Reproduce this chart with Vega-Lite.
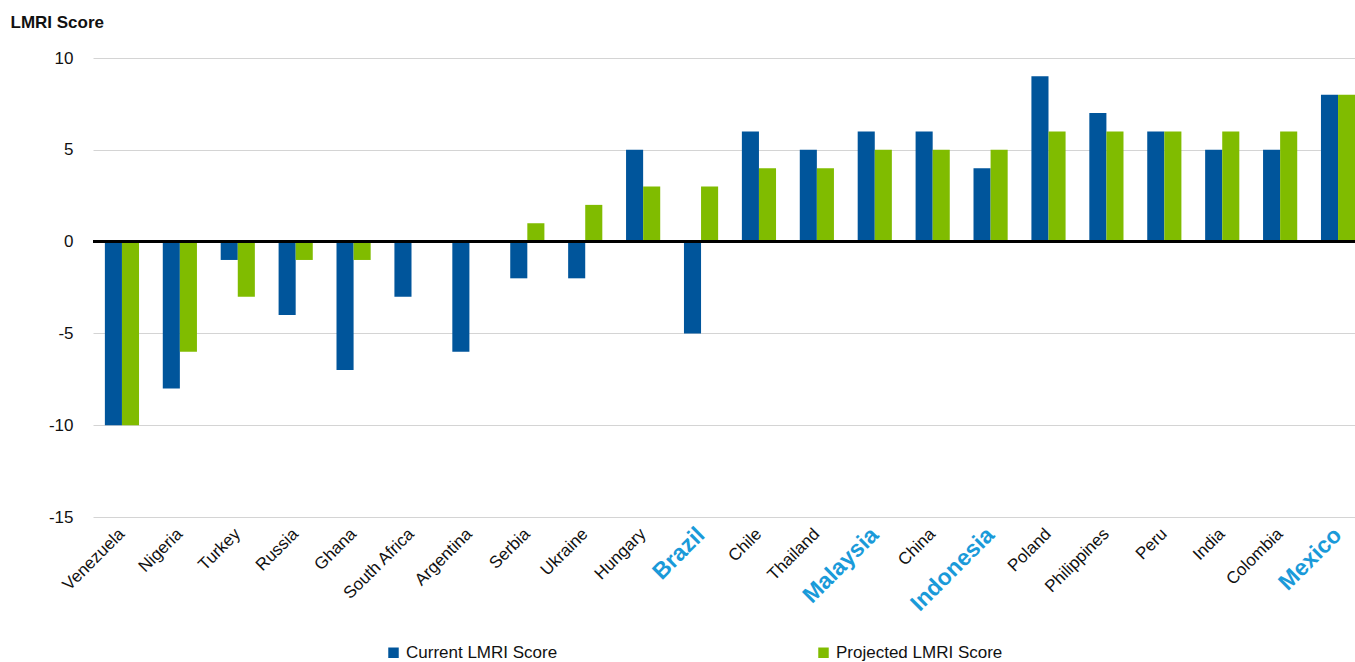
{
  "$schema": "https://vega.github.io/schema/vega-lite/v6.json",
  "autosize": {"type": "none"},
  "width": 1262,
  "height": 459,
  "padding": {"left": 93, "top": 58, "right": 0, "bottom": 145},
  "background": "white",
  "config": {"view": {"stroke": null}, "font": "Liberation Sans"},
  "data": {"values": [
    {"country": "Venezuela", "series": "Current LMRI Score", "value": -10},
    {"country": "Venezuela", "series": "Projected LMRI Score", "value": -10},
    {"country": "Nigeria", "series": "Current LMRI Score", "value": -8},
    {"country": "Nigeria", "series": "Projected LMRI Score", "value": -6},
    {"country": "Turkey", "series": "Current LMRI Score", "value": -1},
    {"country": "Turkey", "series": "Projected LMRI Score", "value": -3},
    {"country": "Russia", "series": "Current LMRI Score", "value": -4},
    {"country": "Russia", "series": "Projected LMRI Score", "value": -1},
    {"country": "Ghana", "series": "Current LMRI Score", "value": -7},
    {"country": "Ghana", "series": "Projected LMRI Score", "value": -1},
    {"country": "South Africa", "series": "Current LMRI Score", "value": -3},
    {"country": "South Africa", "series": "Projected LMRI Score", "value": 0},
    {"country": "Argentina", "series": "Current LMRI Score", "value": -6},
    {"country": "Argentina", "series": "Projected LMRI Score", "value": 0},
    {"country": "Serbia", "series": "Current LMRI Score", "value": -2},
    {"country": "Serbia", "series": "Projected LMRI Score", "value": 1},
    {"country": "Ukraine", "series": "Current LMRI Score", "value": -2},
    {"country": "Ukraine", "series": "Projected LMRI Score", "value": 2},
    {"country": "Hungary", "series": "Current LMRI Score", "value": 5},
    {"country": "Hungary", "series": "Projected LMRI Score", "value": 3},
    {"country": "Brazil", "series": "Current LMRI Score", "value": -5},
    {"country": "Brazil", "series": "Projected LMRI Score", "value": 3},
    {"country": "Chile", "series": "Current LMRI Score", "value": 6},
    {"country": "Chile", "series": "Projected LMRI Score", "value": 4},
    {"country": "Thailand", "series": "Current LMRI Score", "value": 5},
    {"country": "Thailand", "series": "Projected LMRI Score", "value": 4},
    {"country": "Malaysia", "series": "Current LMRI Score", "value": 6},
    {"country": "Malaysia", "series": "Projected LMRI Score", "value": 5},
    {"country": "China", "series": "Current LMRI Score", "value": 6},
    {"country": "China", "series": "Projected LMRI Score", "value": 5},
    {"country": "Indonesia", "series": "Current LMRI Score", "value": 4},
    {"country": "Indonesia", "series": "Projected LMRI Score", "value": 5},
    {"country": "Poland", "series": "Current LMRI Score", "value": 9},
    {"country": "Poland", "series": "Projected LMRI Score", "value": 6},
    {"country": "Philippines", "series": "Current LMRI Score", "value": 7},
    {"country": "Philippines", "series": "Projected LMRI Score", "value": 6},
    {"country": "Peru", "series": "Current LMRI Score", "value": 6},
    {"country": "Peru", "series": "Projected LMRI Score", "value": 6},
    {"country": "India", "series": "Current LMRI Score", "value": 5},
    {"country": "India", "series": "Projected LMRI Score", "value": 6},
    {"country": "Colombia", "series": "Current LMRI Score", "value": 5},
    {"country": "Colombia", "series": "Projected LMRI Score", "value": 6},
    {"country": "Mexico", "series": "Current LMRI Score", "value": 8},
    {"country": "Mexico", "series": "Projected LMRI Score", "value": 8}
  ]},
  "layer": [
    {
      "mark": {"type": "bar"},
      "encoding": {
        "x": {
          "field": "country", "type": "nominal", "sort": null,
          "scale": {"paddingInner": 0.41, "paddingOuter": 0.205, "range": [0, 1274]},
          "axis": {
            "title": null, "domain": false, "ticks": false, "grid": false,
            "labelAngle": -45, "labelAlign": "right", "labelBaseline": "middle",
            "labelPadding": 14, "labelBound": false, "labelOverlap": false,
            "labelFontSize": {"condition": {"test": "indexof(['Brazil','Malaysia','Indonesia','Mexico'], datum.value) >= 0", "value": 23}, "value": 17},
            "labelColor": {"condition": {"test": "indexof(['Brazil','Malaysia','Indonesia','Mexico'], datum.value) >= 0", "value": "#1a9ad9"}, "value": "#111111"},
            "labelFontWeight": {"condition": {"test": "indexof(['Brazil','Malaysia','Indonesia','Mexico'], datum.value) >= 0", "value": "bold"}, "value": "normal"}
          }
        },
        "xOffset": {"field": "series", "type": "nominal", "sort": ["Current LMRI Score", "Projected LMRI Score"]},
        "y": {
          "field": "value", "type": "quantitative",
          "scale": {"domain": [-15, 10], "nice": false},
          "axis": {
            "values": [-15, -10, -5, 0, 5, 10],
            "labelExpr": "'' + datum.value",
            "domain": false, "ticks": false, "grid": true, "gridColor": "#d4d4d4", "gridWidth": 1,
            "labelFontSize": 17, "labelColor": "#111111", "labelPadding": 20,
            "title": "LMRI Score", "titleAngle": 0, "titleX": -83, "titleY": -31,
            "titleAlign": "left", "titleBaseline": "alphabetic",
            "titleFontSize": 17, "titleFontWeight": "bold", "titleColor": "#111111"
          }
        },
        "color": {
          "field": "series", "type": "nominal",
          "scale": {"domain": ["Current LMRI Score", "Projected LMRI Score"], "range": ["#00559b", "#80bc00"]},
          "legend": {
            "title": null, "orient": "none", "direction": "horizontal",
            "legendX": 292, "legendY": 586,
            "symbolType": "square", "symbolSize": 110, "symbolStrokeWidth": 0,
            "labelFontSize": 17, "labelColor": "#111111", "labelOffset": 4,
            "columnPadding": 257, "labelLimit": 300
          }
        }
      }
    },
    {
      "mark": {"type": "rule", "color": "#000000", "strokeWidth": 1.5},
      "encoding": {"y": {"datum": 0}}
    }
  ]
}
